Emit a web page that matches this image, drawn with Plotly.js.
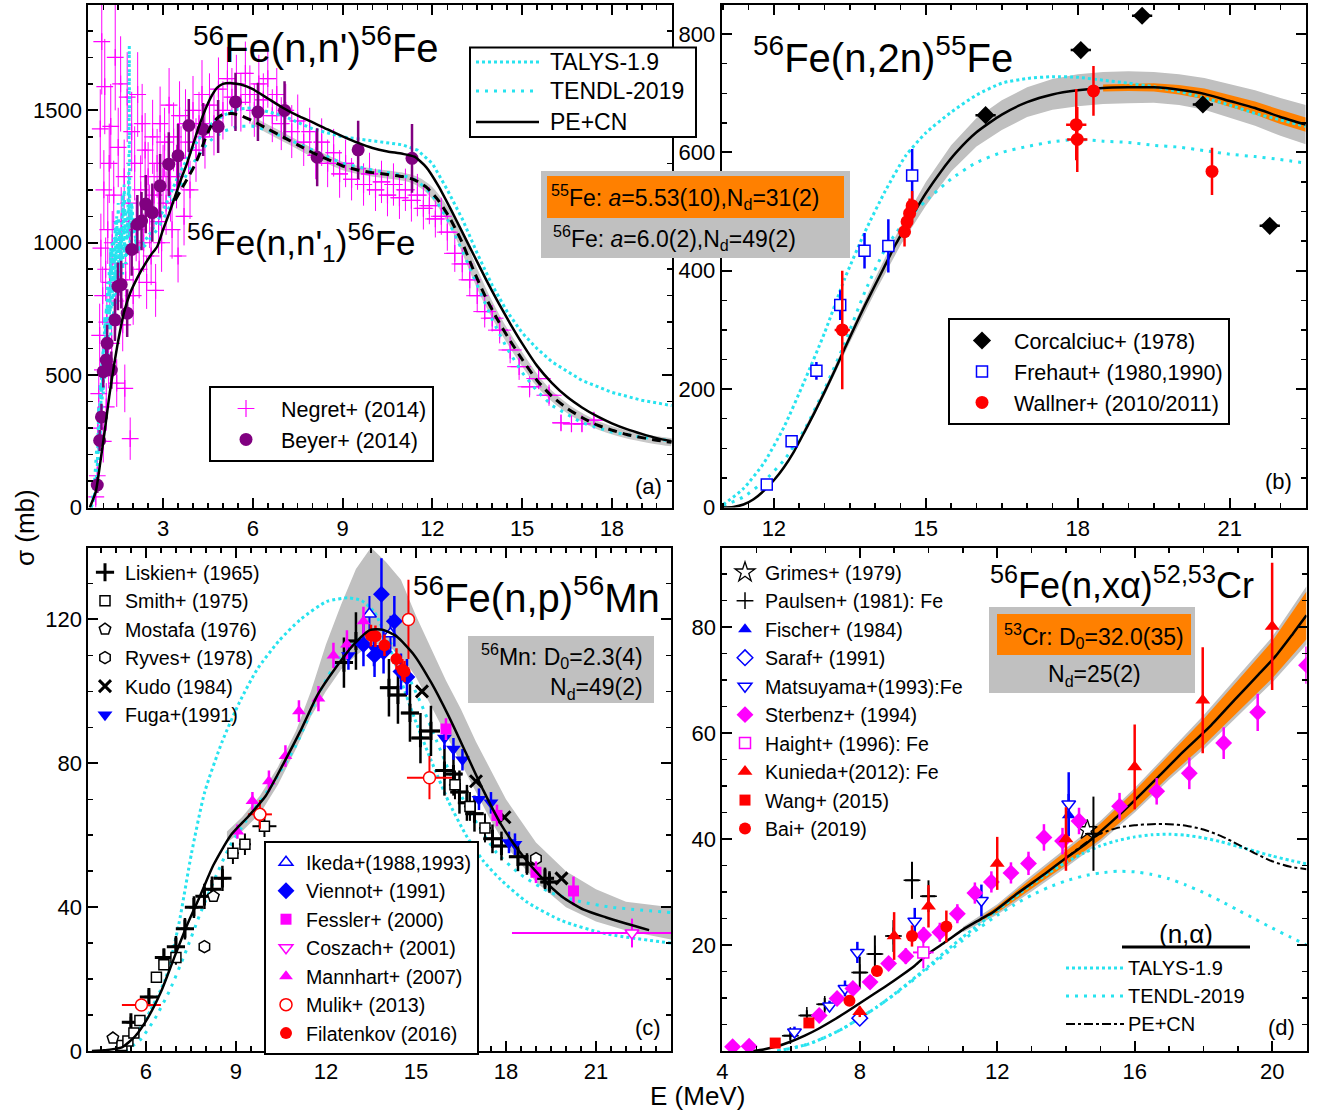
<!DOCTYPE html>
<html><head><meta charset="utf-8">
<script src="https://cdn.plot.ly/plotly-3.0.1.min.js"></script>
<style>html,body{margin:0;padding:0;background:#fff}#chart{width:1328px;height:1113px}</style>
</head><body><div id="chart"></div>
<script>
// ================= DATA =================
// ---- Panel (a): 56Fe(n,n') ----
const ppE_a = [0.55,0.75,0.9,1.05,1.2,1.35,1.5,1.7,1.9,2.15,2.4,2.6,2.8,3.0,3.2,3.4,3.6,3.8,4.0,4.2,4.4,4.6,4.8,5.0,5.3,5.6,6.0,6.5,7.0,7.5,8.0,8.5,9.0,9.5,10.0,10.5,11.0,11.4,11.8,12.2,12.6,13.0,13.4,13.8,14.2,14.6,15.0,15.5,16.0,16.5,17.0,17.5,18.0,18.5,19.0,19.5,20.0];
const ppS_a = [0,60,170,290,420,530,630,740,810,870,920,955,985,1050,1110,1175,1240,1300,1370,1440,1500,1550,1585,1600,1603,1598,1580,1545,1510,1480,1455,1428,1402,1378,1358,1345,1336,1325,1285,1215,1130,1040,950,860,775,695,620,535,470,418,378,345,318,296,278,262,250];
const n1E_a = [3.4,3.6,3.8,4.0,4.2,4.4,4.6,4.8,5.0,5.3,5.6,6.0,6.5,7.0,7.5,8.0,8.5,9.0,9.5,10.0,10.5,11.0,11.4,11.8,12.2,12.6,13.0,13.4,13.8,14.2,14.6,15.0,15.5,16.0,16.5,17.0,17.5,18.0,18.5,19.0,19.5,20.0];
const n1S_a = [1160,1200,1240,1280,1330,1390,1440,1470,1485,1488,1480,1460,1430,1400,1370,1340,1315,1290,1275,1265,1258,1250,1238,1210,1160,1090,1000,890,790,705,630,560,480,420,375,340,312,292,276,264,254,246];
const talysE_a = [0.6,0.7,0.8,0.85,0.9,0.95,1.0,1.05,1.1,1.15,1.2,1.25,1.3,1.35,1.4,1.45,1.5,1.55,1.6,1.65,1.7,1.75,1.8,1.85,1.9,1.95,2.0,2.1,2.2,2.4,2.6,2.8,3.0,3.5,4.0,4.5,5.0,5.5,6.0,6.5,7.0,8.0,9.0,10.0,11.0,11.5,12.0,12.5,13.0,13.5,14.0,14.5,15.0,15.5,16.0,17.0,18.0,19.0,20.0];
const talysS_a = [0,40,150,380,260,560,430,720,600,850,680,980,760,1020,820,1100,880,1050,930,1180,960,1120,1010,1250,1060,1150,1080,1000,980,1010,1040,1080,1120,1250,1360,1440,1480,1505,1510,1495,1480,1430,1400,1385,1370,1350,1300,1200,1090,960,840,740,660,600,550,480,435,405,385];
const tendlE_a = [0.6,0.7,0.8,0.85,0.9,0.95,1.0,1.05,1.1,1.15,1.2,1.25,1.3,1.35,1.4,1.45,1.5,1.55,1.6,1.65,1.7,1.75,1.8,1.85,1.87,1.89,1.95,2.0,2.1,2.2,2.4,2.6,2.8,3.0,3.5,4.0,4.5,5.0,5.5,6.0,6.5,7.0,8.0,9.0,10.0,11.0,11.5,12.0,12.5,13.0,13.5,14.0,14.5,15.0,15.5,16.0,17.0,18.0,19.0,20.0];
const tendlS_a = [0,80,260,180,470,330,640,480,760,560,900,650,1000,700,1080,760,1150,820,1060,880,1220,920,1000,1050,1745,1000,1120,1040,1000,970,990,1020,1050,1090,1200,1300,1380,1420,1440,1440,1425,1400,1350,1300,1275,1255,1235,1180,1090,970,840,710,600,510,440,385,320,285,265,252];
// Negret+ (2014): [E, sigma, dE, dsigma]
const negret = [[0.75,40,0.03,40],[0.8,120,0.03,60],[0.82,300,0.03,80],[0.85,430,0.03,100],[0.88,650,0.03,120],[0.9,1430,0.03,150],[0.92,980,0.03,130],[0.95,1760,0.04,200],[0.97,520,0.04,100],[0.98,800,0.04,110],[1.0,250,0.04,80],[1.02,1200,0.04,150],[1.05,1590,0.05,180],[1.08,900,0.05,120],[1.1,380,0.05,90],[1.12,700,0.05,100],[1.15,1050,0.05,130],[1.18,550,0.05,100],[1.2,1300,0.05,150],[1.22,850,0.05,110],[1.25,1440,0.06,160],[1.28,620,0.06,100],[1.3,1000,0.06,120],[1.35,1180,0.06,130],[1.4,1700,0.06,200],[1.42,780,0.06,110],[1.45,470,0.06,90],[1.5,1360,0.07,150],[1.55,920,0.07,120],[1.58,1600,0.07,180],[1.6,1080,0.07,130],[1.65,690,0.07,100],[1.7,1250,0.08,140],[1.72,450,0.08,90],[1.75,860,0.08,120],[1.8,1550,0.08,170],[1.85,1150,0.08,130],[1.88,980,0.08,120],[1.9,260,0.08,80],[1.95,1420,0.09,150],[2.0,800,0.09,110],[2.05,1300,0.09,140],[2.1,1050,0.1,120],[2.15,1560,0.1,160],[2.2,900,0.1,110],[2.25,1200,0.1,130],[2.3,1450,0.1,150],[2.35,1000,0.1,110],[2.4,1350,0.1,140],[2.45,850,0.1,100],[2.5,1250,0.1,130],[2.55,1100,0.1,120],[2.6,950,0.1,110],[2.65,1400,0.1,140],[2.7,1180,0.1,120],[2.75,820,0.1,100],[2.8,1300,0.12,130],[2.85,1080,0.12,120],[2.9,1450,0.12,140],[2.95,1000,0.12,110],[3.0,1250,0.12,120],[3.05,1380,0.12,130],[3.1,1150,0.12,120],[3.2,1520,0.12,140],[3.25,1200,0.13,120],[3.3,1050,0.13,110],[3.35,1400,0.13,130],[3.45,1250,0.13,120],[3.5,950,0.13,100],[3.55,1480,0.14,130],[3.6,1320,0.14,120],[3.7,1100,0.14,110],[3.75,1450,0.14,130],[3.85,1380,0.15,120],[3.9,1200,0.15,110],[4.0,1500,0.15,130],[4.1,1350,0.15,120],[4.2,1450,0.15,120],[4.3,1560,0.16,130],[4.4,1400,0.16,120],[4.55,1520,0.16,120],[4.7,1450,0.17,120],[4.85,1580,0.17,120],[5.0,1500,0.17,110],[5.15,1620,0.18,120],[5.3,1550,0.18,110],[5.45,1600,0.18,110],[5.6,1530,0.19,110],[5.75,1640,0.19,120],[5.9,1560,0.2,110],[6.05,1500,0.2,100],[6.2,1600,0.2,110],[6.35,1540,0.2,100],[6.5,1620,0.21,110],[6.65,1480,0.21,100],[6.8,1560,0.22,100],[6.95,1450,0.22,100],[7.1,1500,0.22,100],[7.3,1420,0.23,100],[7.5,1460,0.23,100],[7.7,1380,0.24,90],[7.9,1420,0.24,90],[8.1,1330,0.25,90],[8.3,1380,0.25,90],[8.5,1300,0.26,90],[8.7,1340,0.26,90],[8.9,1260,0.27,90],[9.1,1300,0.27,90],[9.3,1240,0.28,80],[9.5,1280,0.28,80],[9.7,1220,0.29,80],[9.9,1260,0.29,80],[10.1,1200,0.3,80],[10.3,1230,0.3,80],[10.5,1180,0.3,80],[10.7,1220,0.31,80],[10.9,1170,0.31,80],[11.1,1200,0.32,80],[11.3,1160,0.32,80],[11.5,1180,0.33,80],[11.7,1130,0.33,80],[11.9,1140,0.34,70],[12.1,1090,0.34,70],[12.3,1100,0.35,70],[12.5,1040,0.35,70],[12.75,960,0.36,70],[13.0,920,0.36,60],[13.25,860,0.37,60],[13.5,800,0.37,60],[13.75,740,0.38,60],[14.0,715,0.38,50],[14.25,670,0.39,50],[14.6,595,0.39,50],[14.9,532,0.4,50],[15.25,456,0.4,40],[15.55,487,0.41,40],[15.9,424,0.42,40],[16.3,320,0.3,30],[16.65,316,0.3,30],[17.0,316,0.3,30],[17.4,330,0.3,30]];
// Beyer+ (2014): [E, sigma, dsigma]
const beyer = [[0.8,85,30],[0.88,253,40],[0.94,342,50],[1.0,513,60],[1.1,557,60],[1.13,620,70],[1.27,519,70],[1.39,709,80],[1.49,835,90],[1.6,842,90],[1.8,734,90],[1.95,975,100],[2.14,1070,110],[2.28,1082,110],[2.42,1146,110],[2.64,1114,110],[2.9,1215,120],[3.19,1297,120],[3.5,1329,120],[3.86,1443,100],[4.34,1428,100],[4.84,1439,100],[5.42,1532,110],[6.17,1494,110],[7.06,1500,110],[8.15,1323,110],[9.52,1351,110],[11.32,1319,130]];

// ---- Panel (b): 56Fe(n,2n) ----
const ppE_b = [10.97,11.2,11.4,11.6,11.8,12.0,12.2,12.4,12.6,12.8,13.0,13.2,13.4,13.6,13.8,14.0,14.2,14.4,14.6,14.8,15.0,15.3,15.6,16.0,16.5,17.0,17.5,18.0,18.5,19.0,19.5,20.0,20.5,21.0,21.5,22.0,22.5];
const ppS_b = [0,1,5,14,28,46,68,95,127,160,195,231,269,306,342,376,410,444,474,503,531,568,600,634,664,685,698,705,709,710,710,706,699,687,675,660,647];
const thE_b = [11.0,11.4,11.8,12.2,12.6,13.0,13.4,13.8,14.2,14.6,15.0,15.5,16.0,16.5,17.0,17.5,18.0,18.5,19.0,19.5,20.0,20.5,21.0,21.5,22.0,22.5];
const talysS_b = [5,32,75,136,213,295,387,466,535,594,633,668,697,717,725,728,727,722,717,711,703,692,680,666,655,644];
const tendlS_b = [3,18,44,80,131,200,278,365,437,485,518,555,583,600,610,618,622,619,617,612,609,603,597,593,588,582];
const bandE_b = [12.5,13,13.5,14,14.5,15,15.5,16,16.5,17,17.5,18,18.5,19,19.5,20,20.5,21,21.5,22,22.5];
const bandLo_b = [108,189,279,364,443,510,568,610,638,660,672,678,682,683,684,680,672,658,645,628,614];
const bandHi_b = [116,201,295,388,475,550,612,658,688,710,724,732,736,737,736,732,726,716,705,692,680];
const orE_b = [18.5,19,19.5,20,20.5,21,21.5,22,22.5];
const orLo_b = [703,704,703,698,690,677,664,648,635];
const orHi_b = [715,716,717,714,708,697,686,672,659];
const corcalciuc = [[16.18,663,0.2],[18.06,773,0.2],[19.27,831,0.2],[20.47,681,0.2],[21.79,476,0.2]];
const frehaut = [[11.86,39,8],[12.35,112,10],[12.84,231,15],[13.31,342,25],[13.79,434,30],[14.26,442,45],[14.73,561,45]];
const wallner = [[13.35,300,0.15,100],[14.58,466,0,25],[14.63,483,0,25],[14.68,497,0,25],[14.73,510,0,25],[17.97,647,0.2,60],[17.99,622,0.2,55],[18.31,704,0.1,42],[20.65,568,0,40]];

// ---- Panel (c): 56Fe(n,p) ----
const ppE_c = [4.2,4.6,5.2,5.64,6.07,6.51,6.94,7.38,7.82,8.25,8.83,9.41,9.99,10.57,11.15,11.74,12.32,12.9,13.48,13.91,14.35,14.93,15.51,16.09,16.67,17.25,17.83,18.41,19.14,19.87,20.59,21.32,22.77];
const ppS_c = [0,0.2,1.0,4.1,9.3,16.6,25.9,35.2,43.4,51.7,60,65.2,70.9,79.7,89,99.3,106.5,112.8,117.1,117.1,115.3,110.2,102.4,93.1,82.8,72.4,63.1,55.9,48.6,42.9,39.3,37.2,33.6];
const talysE_c = [5.0,5.5,6.0,6.65,7.09,7.52,7.96,8.54,9.12,9.7,10.43,11.15,12.03,12.75,13.19,13.62,14.06,14.49,14.93,15.51,16.09,16.67,17.25,17.83,18.7,19.87,21.32,23.5];
const talysS_c = [1,3,9,20,35,55,72,86,97,106,114,120,125,126,125.2,122,113.8,103.4,93,80.7,69.3,60,52.8,47.6,41.4,36.2,32.6,30];
const tendlE_c = [5.3,5.8,6.3,6.8,7.3,7.8,8.3,8.8,9.5,10.2,11,11.8,12.5,13.2,13.7,14.2,14.7,15.2,15.7,16.2,16.7,17.2,17.7,18.5,19.5,20.5,21.5,23.5];
const tendlS_c = [0,3,9,17,27,38,48,57,66,74,85,100,110,115,116,113,105,96,86,76,68,61,55,49,44,41.5,40,38.5];
const bandE_c = [8.7,9.2,9.8,10.4,11,11.5,12,12.5,13,13.5,14,14.5,15,15.5,16,16.5,17,17.5,18,19,20,21,22,23.5];
const bandHi_c = [61,65,71,79,89,100,113,124,134,140,136,131,121,112,103,95,86,78,70,58,50,45,41.5,40];
const bandLo_c = [58,61,66,74,84,93,100,106,110,113,113,110,104,96,88,80,72,64,57,47,40,36,33.5,31];
const liskien = [[5.5,8,0.15,1.5],[6.1,15,0.15,2],[6.6,26,0.15,2.5],[7.0,29,0.15,3],[7.3,34,0.15,3],[7.6,40,0.15,3],[7.95,43,0.15,3.5],[8.2,45,0.15,3.5],[8.55,48,0.15,3.5],[12.6,108,0.3,7],[13.0,114,0.3,8],[14.1,101,0.3,8],[14.4,99,0.3,8],[14.8,94,0.3,8],[15.15,87,0.3,7],[15.5,89,0.3,7],[15.95,78,0.3,7],[16.25,77,0.3,6],[16.45,72,0.3,6],[16.7,69,0.3,5],[16.95,66,0.3,5],[17.55,59,0.3,4],[17.85,57,0.3,4],[18.4,54,0.3,4],[18.7,52,0.3,3],[19.3,48,0.3,3],[19.45,47,0.3,3]];
const smith = [[5.2,1.5,0.1,0.5],[5.4,2.8,0.1,0.6],[5.6,5,0.1,0.8],[5.8,8.5,0.1,1],[6.35,20.5,0.15,1.5],[6.6,24,0.15,1.5],[7.0,26,0.15,2],[8.9,55,0.2,3],[9.3,57.5,0.2,3],[9.95,62.5,0.4,3],[16.3,74,0.2,4],[16.8,68,0.2,4],[17.3,62,0.2,4]];
const mostafa = [[4.9,3.6],[8.25,43]];
const ryves = [[7.95,29],[19.0,53.5]];
const kudo = [[15.2,100],[17.0,75],[17.95,65],[19.85,48]];
const fuga = [[12.75,110,4],[13.6,112,5],[15.95,87,3],[16.25,84,3],[16.55,81,3],[17.1,70,3],[17.5,69,3],[18.1,58,3],[18.3,57.5,3]];
const ikeda = [[13.45,121.5,5],[14.15,116,5]];
const viennot = [[13.25,113,6],[13.62,110,6],[13.85,127,10],[13.92,111,6],[14.28,119.5,7],[14.5,105.5,5],[14.7,104,5]];
const fessler = [[16.0,89.5,3],[17.7,65.5,3],[19.0,49.7,3],[20.25,44.5,4]];
const coszach = [[22.2,32.8,4.0,4]];
const mannhart = [[9.05,61,2],[9.55,69.5,2.5],[10.1,75,3],[10.65,82,3],[11.1,94.5,3],[11.75,98,3.5],[12.25,110,3.5],[12.7,113,4],[13.25,119.5,4]];
const mulik = [[5.85,12.8,0.65,1.5],[9.8,65.8,0.4,4],[15.45,76,0.75,6],[14.75,120,0,11]];
const filatenkov = [[13.5,115.5,3],[13.65,115.3,3],[13.95,112.8,3],[14.35,109,3],[14.55,106,3],[14.62,105.5,3]];

// ---- Panel (d): 56Fe(n,xalpha) ----
const ppE_d = [4.9,5.2,5.6,6.0,6.4,6.8,7.2,7.6,8.0,8.4,8.8,9.2,9.6,10.0,10.5,11.0,11.5,11.9,12.6,13.4,14.0,14.6,15.3,16.0,16.7,17.4,18.2,18.9,19.6,20.1,20.6,21.0];
const ppS_d = [0,0.3,0.9,1.8,2.9,4.2,5.7,7.3,9.0,10.7,12.4,14.2,16.1,18.4,20.6,22.9,24.8,26.3,29.8,33.5,36.4,39.2,43.1,47.3,51.8,56.4,61.3,66.2,71.0,74.5,78.7,82.2];
const thE_d = [5.6,6.0,6.5,7.0,7.5,8.0,8.5,9.0,9.5,10.0,10.5,11.0,11.5,12.0,12.5,13.0,13.5,14.0,14.5,15.0,15.5,16.0,16.5,17.0,17.5,18.0,18.5,19.0,19.5,20.0,20.5,21.0];
const talysS_d = [0,0.5,1.3,2.6,4.2,6.2,8.3,10.7,13.3,16.0,18.8,21.5,24.0,26.5,29.0,31.4,33.6,35.6,37.3,38.7,39.7,40.4,40.8,40.9,40.7,40.2,39.5,38.6,37.7,36.8,36.0,35.3];
const tendlS_d = [0,0.5,1.3,2.6,4.2,6.2,8.3,10.6,13.1,15.7,18.3,20.9,23.3,25.6,27.6,29.4,30.9,32.1,33.0,33.6,33.9,33.8,33.3,32.5,31.3,29.9,28.3,26.6,24.9,23.2,21.6,20.0];
const pcnE_d = [14.0,14.5,15.0,15.5,16.0,16.5,17.0,17.5,18.0,18.5,19.0,19.5,20.0,20.5,21.0];
const pcnS_d = [36.4,38.9,41.0,42.1,42.6,42.8,42.8,42.5,41.8,40.6,39.0,37.3,35.8,34.8,34.3];
const bandE_d = [11,12,13,14,15,16,17,18,19,20,21];
const bandLo_d = [22.4,25.7,30.1,34.6,39.4,45.0,51.2,56.9,63.1,69.5,76.7];
const bandHi_d = [23.4,27.7,33.1,38.2,43.4,49.6,56.4,63.3,70.7,78.1,87.7];
const orE_d = [11.5,12,13,14,15,16,17,18,19,20,21];
const orLo_d = [24.5,26.1,30.6,35.1,39.9,45.5,51.8,57.6,63.9,70.3,77.7];
const orHi_d = [25.1,27.3,32.6,37.7,42.9,49.1,55.8,62.6,69.9,77.3,86.7];
const grimes = [[14.62,41.7]];
const paulsen = [[5.98,2.9,0.2,0.8],[6.46,6.7,0.2,1],[6.98,8.8,0.2,1.2],[8.0,14.8,0.2,3],[8.44,18.3,0.2,3.5],[8.98,21.7,0.2,3],[9.52,32.2,0.2,3.5],[10.0,29.2,0.2,3],[14.8,41,0.2,7]];
const fischer = [[14.08,44.5,4]];
const saraf = [[8.0,6.2,1]];
const matsuyama = [[6.1,3.6,1],[7.12,8.5,1],[7.57,11.8,1.5],[7.93,18.6,2],[9.6,24.5,2.5],[11.54,28.4,3],[14.08,46.6,6]];
const sterbenz = [[4.3,0.8,0.3],[4.78,0.9,0.3],[6.82,6.7,0.8],[7.34,9.9,1],[7.8,11.8,1],[8.3,13,1.2],[8.84,16.5,1.2],[9.34,17.9,1.5],[9.86,21.9,1.5],[10.33,22.4,1.8],[10.84,25.9,1.8],[11.35,29.8,2],[11.83,31.9,2],[12.4,33.6,2],[12.91,35.4,2.2],[13.36,40.3,2.5],[13.9,39.6,2.5],[14.38,43.4,2.5],[15.56,46.2,2.5],[16.64,49,2.5],[17.59,52.4,3],[18.59,58.1,3],[19.58,63.9,3.5],[21.0,72.8,3.5]];
const haight = [[9.85,18.6,0.3,3]];
const kunieda = [[8.0,7.4,1],[9.0,21.7,4.5],[10.0,27.3,4],[12.0,35.4,5],[14.0,40,6],[16.0,53.6,8],[17.98,66.2,10],[20.0,80.1,12]];
const wang = [[5.54,1.5,0.5],[6.52,5.3,0.8]];
const bai = [[7.7,9.5,1],[8.5,15.1,1],[9.52,21.7,2],[10.52,23.5,3]];

// ================= DRAWING =================
const W=1328, H=1113;
const FONT='"Liberation Sans", Arial, Helvetica, sans-serif';
const CYAN='#27e3ef', MAG='#ff00ff', PUR='#800080', BLUE='#0000ff', RED='#ff0000', ORG='#ff8000', GRAY='#c0c0c0';
const px=x=>x/W, py=y=>1-y/H;
const AX={a:['x','y'],b:['x2','y2'],c:['x3','y3'],d:['x4','y4']};
const col=(rows,i)=>rows.map(r=>r[i]);

function curve(p,E,S,color,width,dash,shape){
  return {type:'scatter',mode:'lines',x:E,y:S,xaxis:AX[p][0],yaxis:AX[p][1],
    line:{color:color,width:width,dash:dash||'solid',shape:shape||'spline',smoothing:0.6},
    showlegend:false,hoverinfo:'skip'};
}
function band(p,E,lo,hi,color){
  return {type:'scatter',mode:'lines',x:E.concat(E.slice().reverse()),y:hi.concat(lo.slice().reverse()),
    fill:'toself',fillcolor:color,line:{width:0,color:color},xaxis:AX[p][0],yaxis:AX[p][1],
    showlegend:false,hoverinfo:'skip'};
}
function pts(p,name,leg,rows,marker,exIdx,eyIdx,ecolor,eth){
  const t={type:'scatter',mode:'markers',name:name,legend:leg,x:col(rows,0),y:col(rows,1),
    xaxis:AX[p][0],yaxis:AX[p][1],marker:marker,showlegend:true,hoverinfo:'skip'};
  if(eyIdx!=null) t.error_y={type:'data',array:col(rows,eyIdx),visible:true,color:ecolor,thickness:eth,width:0};
  if(exIdx!=null) t.error_x={type:'data',array:col(rows,exIdx),visible:true,color:ecolor,thickness:eth,width:0};
  return t;
}
const mk=(symbol,color,size,lineColor,lw)=>({symbol:symbol,color:color,size:size,line:{color:lineColor||color,width:lw==null?0:lw}});

const traces=[];
// ---- (a)
traces.push(curve('a',n1E_a.slice(11),n1S_a.slice(11),'#c8c8c8',8));
traces.push(pts('a','Negret+ (2014)','legend',negret,mk('cross-thin-open',MAG,12,MAG,1.2),2,3,MAG,1));
traces.push(curve('a',talysE_a,talysS_a,CYAN,3,'dot','linear'));
traces.push(curve('a',tendlE_a,tendlS_a,CYAN,3,'3px,6px','linear'));
traces.push(pts('a','Beyer+ (2014)','legend',beyer,mk('circle',PUR,13),null,2,PUR,2.5));
traces.push(curve('a',n1E_a,n1S_a,'black',3,'9px,6px'));
traces.push(curve('a',ppE_a,ppS_a,'black',2.5));
// ---- (b)
traces.push(band('b',bandE_b,bandLo_b,bandHi_b,GRAY));
traces.push(band('b',orE_b,orLo_b,orHi_b,ORG));
traces.push(curve('b',thE_b,talysS_b,CYAN,3,'dot'));
traces.push(curve('b',thE_b,tendlS_b,CYAN,3,'3px,6px'));
traces.push(curve('b',ppE_b,ppS_b,'black',2.5));
traces.push(pts('b','Corcalciuc+ (1978)','legend2',corcalciuc,mk('diamond','black',14),2,null,'black',2.5));
traces.push(pts('b','Frehaut+ (1980,1990)','legend2',frehaut,mk('square','white',11,BLUE,1.5),null,2,BLUE,2.5));
traces.push(pts('b','Wallner+ (2010/2011)','legend2',wallner,mk('circle',RED,13),2,3,RED,2.5));
// ---- (c)
traces.push(band('c',bandE_c,bandLo_c,bandHi_c,GRAY));
traces.push(curve('c',talysE_c,talysS_c,CYAN,3,'dot'));
traces.push(curve('c',tendlE_c,tendlS_c,CYAN,3,'3px,6px'));
traces.push(pts('c','Liskien+ (1965)','legend3',liskien,mk('cross-thin-open','black',13,'black',3),2,3,'black',2.5));
traces.push(pts('c','Smith+ (1975)','legend3',smith,mk('square','white',10,'black',1.5),2,3,'black',2));
traces.push(pts('c','Mostafa (1976)','legend3',mostafa,mk('pentagon','white',12,'black',1.5)));
traces.push(pts('c','Ryves+ (1978)','legend3',ryves,mk('hexagon','white',12,'black',1.5)));
traces.push(pts('c','Kudo (1984)','legend3',kudo,mk('x-thin-open','black',12,'black',3)));
traces.push(pts('c','Fuga+(1991)','legend3',fuga,mk('triangle-down',BLUE,13),null,2,BLUE,2.5));
traces.push(pts('c','Ikeda+(1988,1993)','legend4',ikeda,mk('triangle-up','white',12,BLUE,1.5),null,2,BLUE,2));
traces.push(pts('c','Viennot+ (1991)','legend4',viennot,mk('diamond',BLUE,13),null,2,BLUE,2.5));
traces.push(pts('c','Fessler+ (2000)','legend4',fessler,mk('square',MAG,11),null,2,MAG,2.5));
traces.push(pts('c','Coszach+ (2001)','legend4',coszach,mk('triangle-down','white',12,MAG,1.5),2,3,MAG,2));
traces.push(pts('c','Mannhart+ (2007)','legend4',mannhart,mk('triangle-up',MAG,12),null,2,MAG,2.5));
traces.push(pts('c','Mulik+ (2013)','legend4',mulik,mk('circle','white',12,RED,1.5),2,3,RED,2));
traces.push(pts('c','Filatenkov (2016)','legend4',filatenkov,mk('circle',RED,12),null,2,RED,2.5));
traces.push(curve('c',ppE_c,ppS_c,'black',2.5));
// ---- (d)
traces.push(band('d',bandE_d,bandLo_d,bandHi_d,GRAY));
traces.push(band('d',orE_d,orLo_d,orHi_d,ORG));
traces.push(curve('d',thE_d,talysS_d,CYAN,3,'dot'));
traces.push(curve('d',thE_d,tendlS_d,CYAN,3,'3px,6px'));
traces.push(curve('d',pcnE_d,pcnS_d,'black',2,'dashdot'));
traces.push(curve('d',ppE_d,ppS_d,'black',2.5));
traces.push(pts('d','Grimes+ (1979)','legend5',grimes,mk('star','white',15,'black',1.3)));
traces.push(pts('d','Paulsen+ (1981): Fe','legend5',paulsen,mk('cross-thin-open','black',12,'black',1.5),2,3,'black',2));
traces.push(pts('d','Fischer+ (1984)','legend5',fischer,mk('triangle-up',BLUE,12),null,2,BLUE,2.5));
traces.push(pts('d','Saraf+ (1991)','legend5',saraf,mk('diamond','white',12,BLUE,1.5),null,2,BLUE,2));
traces.push(pts('d','Matsuyama+(1993):Fe','legend5',matsuyama,mk('triangle-down','white',12,BLUE,1.5),null,2,BLUE,2.5));
traces.push(pts('d','Sterbenz+ (1994)','legend5',sterbenz,mk('diamond',MAG,13),null,2,MAG,2.5));
traces.push(pts('d','Haight+ (1996): Fe','legend5',haight,mk('square','white',11,MAG,1.5),2,3,MAG,2));
traces.push(pts('d','Kunieda+(2012): Fe','legend5',kunieda,mk('triangle-up',RED,13),null,2,RED,2.5));
traces.push(pts('d','Wang+ (2015)','legend5',wang,mk('square',RED,11),null,2,RED,2));
traces.push(pts('d','Bai+ (2019)','legend5',bai,mk('circle',RED,12),null,2,RED,2.5));

// ---- axes
function xax(x0,x1,range,dtick,minor,anchor){
  return {domain:[px(x0),px(x1)],range:range,anchor:anchor,showgrid:false,zeroline:false,
    showline:true,linecolor:'black',linewidth:2,mirror:'ticks',ticks:'inside',ticklen:10,tickwidth:2,tickcolor:'black',
    tickmode:'linear',tick0:0,dtick:dtick,tickfont:{family:FONT,size:22,color:'black'},
    minor:{ticks:'inside',ticklen:5,tickwidth:1.5,tickcolor:'black',dtick:minor,tick0:0,showgrid:false},fixedrange:true};
}
function yax(y0,y1,range,tickvals,minor,anchor){
  return {domain:[py(y1),py(y0)],range:range,anchor:anchor,showgrid:false,zeroline:false,
    showline:true,linecolor:'black',linewidth:2,mirror:'ticks',ticks:'inside',ticklen:10,tickwidth:2,tickcolor:'black',
    tickmode:'array',tickvals:tickvals,tickfont:{family:FONT,size:22,color:'black'},
    minor:{ticks:'inside',ticklen:5,tickwidth:1.5,tickcolor:'black',dtick:minor,tick0:0,showgrid:false},fixedrange:true};
}
const legBox=(x,y,size,iw,border)=>({x:px(x),y:py(y),xref:'paper',yref:'paper',xanchor:'left',yanchor:'top',
  bgcolor:border?'white':'rgba(0,0,0,0)',bordercolor:'black',borderwidth:border?2:0,
  font:{family:FONT,size:size,color:'black'},itemwidth:iw,tracegroupgap:0,itemclick:false,itemdoubleclick:false});

function A(text,x,y,size,o){return Object.assign({text:text,x:px(x),y:py(y),xref:'paper',yref:'paper',showarrow:false,
  font:{family:FONT,size:size,color:'black'},xanchor:'center',yanchor:'middle'},o||{});}
function rect(x0,y0,x1,y1,fill,lw){return {type:'rect',xref:'paper',yref:'paper',x0:px(x0),x1:px(x1),y0:py(y1),y1:py(y0),
  fillcolor:fill,line:{color:'black',width:lw||0},layer:'above'};}
function hline(x0,x1,y,color,width,dash){return {type:'line',xref:'paper',yref:'paper',x0:px(x0),x1:px(x1),y0:py(y),y1:py(y),
  line:{color:color,width:width,dash:dash||'solid'},layer:'above'};}

const layout={
  width:W,height:H,margin:{l:0,r:0,t:0,b:0},paper_bgcolor:'white',plot_bgcolor:'white',
  font:{family:FONT,size:22,color:'black'},
  xaxis:xax(88.3,671.7,[0.5,20],3,0.5,'y'),
  yaxis:yax(4.5,507.5,[0,1900],[0,500,1000,1500],100,'x'),
  xaxis2:xax(721.7,1305.7,[10.97,22.5],3,0.5,'y2'),
  yaxis2:yax(4.5,507.5,[0,850],[0,200,400,600,800],50,'x2'),
  xaxis3:xax(88.3,671,[4.08,23.5],3,0.5,'y3'),
  yaxis3:yax(547.5,1051,[0,140],[0,40,80,120],10,'x3'),
  xaxis4:xax(722.3,1306.5,[4,21],4,1,'y4'),
  yaxis4:yax(547.5,1051,[0,95],[20,40,60,80],5,'x4'),
  legend:legBox(209,386,21.5,60,true),
  legend2:legBox(948,318,21.5,54,true),
  legend3:legBox(85,553,19.6,30,false),
  legend4:legBox(264,841,19.6,30,true),
  legend5:legBox(725,553,19.6,30,false),
  shapes:[
    rect(470,47.5,696,137,'white',2),
    hline(476,539,62,CYAN,3,'dot'),
    hline(476,539,91,CYAN,3,'3px,6px'),
    hline(476,539,122,'black',2.5),
    rect(541,171,850,258,GRAY,0),
    rect(547,176,844,218,ORG,0),
    rect(468,636,654,703,GRAY,0),
    rect(989,607,1195,693,GRAY,0),
    rect(997,614,1191,655,ORG,0),
    hline(1122,1250,947,'black',3),
    hline(1066,1124,968,CYAN,3,'dot'),
    hline(1066,1124,996,CYAN,3,'3px,6px'),
    hline(1066,1124,1024,'black',2,'dashdot')
  ],
  annotations:[
    A('<sup>56</sup>Fe(n,n\')<sup>56</sup>Fe',316,45,40),
    A('<sup>56</sup>Fe(n,n\'<sub>1</sub>)<sup>56</sup>Fe',301,242,35),
    A('TALYS-1.9',548,62,23,{xanchor:'left'}),
    A('TENDL-2019',548,91,23,{xanchor:'left'}),
    A('PE+CN',548,122,23,{xanchor:'left'}),
    A('<sup>55</sup>Fe: <i>a</i>=5.53(10),N<sub>d</sub>=31(2)',549,197,23,{xanchor:'left'}),
    A('<sup>56</sup>Fe: <i>a</i>=6.0(2),N<sub>d</sub>=49(2)',551,238,23,{xanchor:'left'}),
    A('(a)',648,486,22),
    A('<sup>56</sup>Fe(n,2n)<sup>55</sup>Fe',883,55,40),
    A('(b)',1278,481,22),
    A('<sup>56</sup>Fe(n,p)<sup>56</sup>Mn',536,595,40),
    A('<sup>56</sup>Mn: D<sub>0</sub>=2.3(4)',645,656,23,{xanchor:'right'}),
    A('N<sub>d</sub>=49(2)',645,688,23,{xanchor:'right'}),
    A('(c)',648,1027,22),
    A('<sup>56</sup>Fe(n,xα)<sup>52,53</sup>Cr',1122,583,36),
    A('<sup>53</sup>Cr: D<sub>0</sub>=32.0(35)',1094,636,23),
    A('N<sub>d</sub>=25(2)',1094,675,23),
    A('(n,α)',1186,934,26),
    A('TALYS-1.9',1126,968,20,{xanchor:'left'}),
    A('TENDL-2019',1126,996,20,{xanchor:'left'}),
    A('PE+CN',1126,1024,20,{xanchor:'left'}),
    A('(d)',1281,1027,22),
    A('σ (mb)',25,528,26,{textangle:-90}),
    A('E (MeV)',697,1096,26)
  ]
};
Plotly.newPlot('chart',traces,layout,{staticPlot:true,displayModeBar:false});
</script></body></html>
